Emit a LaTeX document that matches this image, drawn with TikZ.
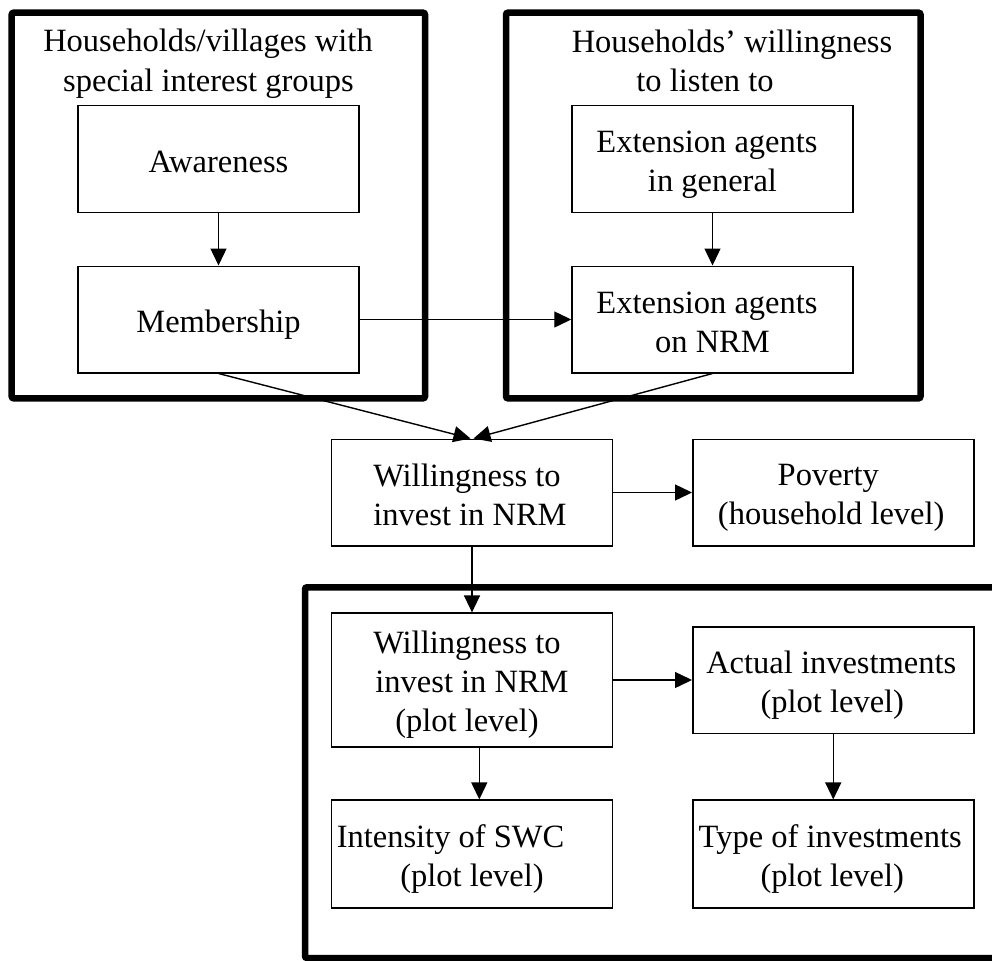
\documentclass[tikz,border=0pt]{standalone}
\usepackage{fontspec}
\setmainfont{Liberation Serif}
\usetikzlibrary{arrows.meta,calc}
\newcommand{\ls}{\rule[-6.5pt]{0pt}{39pt}}
\newcommand{\tfont}{\fontsize{32.5}{39}\selectfont\lineskiplimit -20pt\relax}
\begin{document}
\begin{tikzpicture}[x=1pt,y=-1pt,
  txt/.style={font=\tfont},
  box/.style={draw, line width=1.5pt, minimum width=281pt, minimum height=106.5pt, inner sep=0pt, align=center, txt},
  frame/.style={draw, line width=6.5pt, rounded corners=2pt, inner sep=0pt},
  arr/.style={-{Triangle[length=17pt,width=16pt]}, line width=1.4pt},
  ttl/.style={txt, inner sep=0pt, anchor=base}]
\useasboundingbox (0,0) rectangle (992,960);
\clip (0,0) rectangle (992,960);
% group frames
\node[frame, minimum width=413.3pt, minimum height=385.6pt] (fL) at (218.35,205.5) {};
\node[frame, minimum width=414.5pt, minimum height=385.6pt] (fR) at (713.25,205.5) {};
\node[frame, minimum width=720pt, minimum height=370.7pt] (fB) at (665,772.65) {};
% titles
\node[ttl] (tL1) at (208,52) {Households/villages with};
\node[ttl] (tL2) at (208.5,92) {special interest groups};
\node[ttl] (tR1) at (732,53) {Households’ willingness};
\node[ttl] (tR2) at (705,92) {to listen to};
% boxes
\node[box] (aw) at (218.5,159) {\ls Awareness};
\node[box] (mem) at (218.5,319.5) {\ls Membership};
\node[box] (eg) at (712.5,159) {\ls Extension agents\hspace*{11pt}\\\ls in general};
\node[box] (en) at (712.5,319.5) {\ls Extension agents\hspace*{11pt}\\\ls on NRM};
\node[box] (w) at (472,492.5) {\ls Willingness to\hspace*{10pt}\\\ls invest in NRM\hspace*{4pt}};
\node[box] (pov) at (833.25,492.5) {\ls Poverty\hspace*{10pt}\\\ls (household level)\hspace*{4pt}};
\node[box, minimum height=133.7pt] (wp) at (472,680) {\ls Willingness to\hspace*{10pt}\\\ls invest in NRM\hspace*{4pt}\\\ls (plot level)\hspace*{10pt}};
\node[box] (act) at (833.25,680) {\ls Actual investments\hspace*{4pt}\\\ls (plot level)\hspace*{2pt}};
\node[box, minimum height=107.7pt] (int) at (472,854) {\ls Intensity of SWC\hspace*{43pt}\\\ls (plot level)};
\node[box, minimum height=107.7pt] (typ) at (833.25,854) {\ls Type of investments\hspace*{6pt}\\\ls (plot level)\hspace*{2pt}};
% connectors
\draw[arr] (aw) -- (mem);
\draw[arr] (eg) -- (en);
\draw[arr] (mem) -- (en);
\draw[arr] (mem.south) -- ([xshift=-1.5pt]w.north);
\draw[arr] (en.south) -- ([xshift=1.5pt]w.north);
\draw[arr] (w) -- (pov);
\draw[arr] (w) -- (wp);
\draw[arr] (wp) -- (act);
\draw[arr] ([xshift=7.3pt]wp.south) -- ([xshift=7.3pt]int.north);
\draw[arr] (act) -- (typ);
\end{tikzpicture}
\end{document}
